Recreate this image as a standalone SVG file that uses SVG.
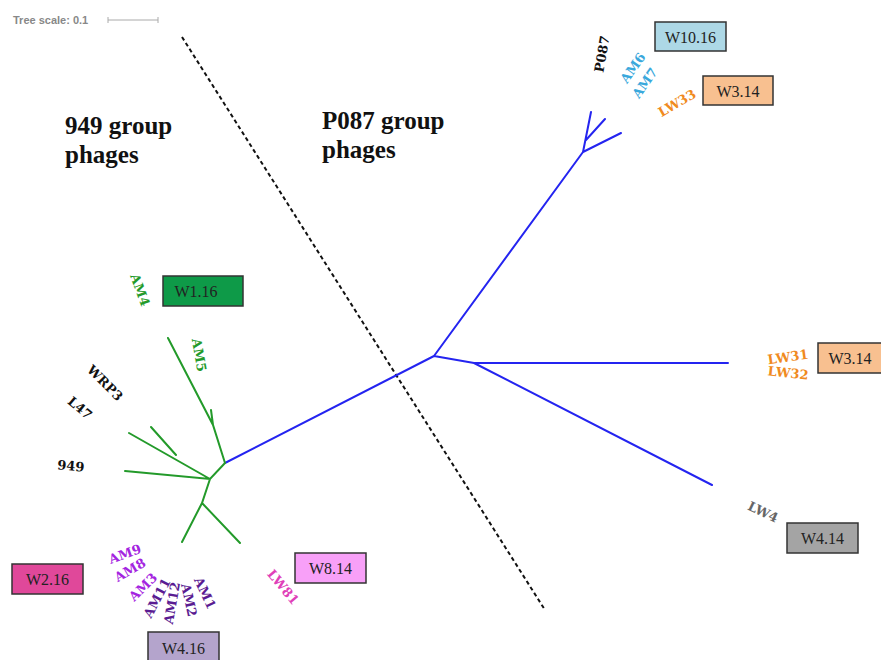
<svg xmlns="http://www.w3.org/2000/svg" width="881" height="660" viewBox="0 0 881 660">
<style>
.blue{stroke:#2424f0;stroke-width:2;fill:none;stroke-linecap:round}
.green{stroke:#239a2a;stroke-width:2;fill:none;stroke-linecap:round}
.lbl{font-family:"DejaVu Serif","Liberation Serif",serif;font-weight:bold;font-size:13px;text-anchor:middle;dominant-baseline:central}
.bx{stroke:#333;stroke-width:1.5}
.bt{font-family:"Liberation Serif",serif;font-size:16px;fill:#222;text-anchor:middle;dominant-baseline:central}
.title{font-family:"Liberation Serif",serif;font-weight:bold;font-size:25px;fill:#111}
</style>
<rect width="881" height="660" fill="#fff"/>
<g id="scale">
<text x="13" y="24" font-family="Liberation Sans,sans-serif" font-weight="bold" font-size="11" fill="#888">Tree scale: 0.1</text>
<path d="M108 20H158M108 17V23M158 17V23" stroke="#aaa" stroke-width="1"/>
</g>
<g id="divider"><line x1="182" y1="37" x2="545" y2="610" stroke="#111" stroke-width="2" stroke-dasharray="4,3"/></g>
<g id="titles">
<text class="title" x="65" y="134">949 group</text>
<text class="title" x="65" y="163">phages</text>
<text class="title" x="322" y="129">P087 group</text>
<text class="title" x="322" y="158">phages</text>
</g>
<g id="connectors">
<path class="blue" d="M434 356L583 152M583 152L591 112M586 140L605 119M583 152L621 133M434 356L474 363L728 363M474 363L712 485M434 356L225 463"/>
<path class="green" d="M225 463L213 425L168 338M213 425L211 410M225 463L210 479L125 471M210 479L129 433M176 455L151 427M210 479L202 503L182 542M202 503L240 543"/>
</g>
<g id="leaf-P087"><text class="lbl" fill="#111" transform="translate(602,54) rotate(-80)">P087</text></g>
<g id="leaf-AM6"><text class="lbl" fill="#3aa8dc" transform="translate(633,68) rotate(-55)">AM6</text></g>
<g id="leaf-AM7"><text class="lbl" fill="#3aa8dc" transform="translate(645,83) rotate(-55)">AM7</text></g>
<g id="leaf-LW33"><text class="lbl" fill="#f08a20" transform="translate(677,103) rotate(-30)">LW33</text></g>
<g id="leaf-LW31"><text class="lbl" fill="#f08a20" transform="translate(788,357) rotate(-8)">LW31</text></g>
<g id="leaf-LW32"><text class="lbl" fill="#f08a20" transform="translate(788,373) rotate(6)">LW32</text></g>
<g id="leaf-LW4"><text class="lbl" fill="#666" transform="translate(763,512) rotate(25)">LW4</text></g>
<g id="leaf-AM4"><text class="lbl" fill="#239a2a" transform="translate(140,290) rotate(70)">AM4</text></g>
<g id="leaf-AM5"><text class="lbl" fill="#239a2a" transform="translate(199,355) rotate(80)">AM5</text></g>
<g id="leaf-WRP3"><text class="lbl" fill="#111" transform="translate(105,383) rotate(45)">WRP3</text></g>
<g id="leaf-L47"><text class="lbl" fill="#111" transform="translate(80,408) rotate(40)">L47</text></g>
<g id="leaf-949"><text class="lbl" fill="#111" transform="translate(71,466) rotate(5)">949</text></g>
<g id="leaf-AM9"><text class="lbl" fill="#a424e0" transform="translate(125,554) rotate(-20)">AM9</text></g>
<g id="leaf-AM8"><text class="lbl" fill="#a424e0" transform="translate(130,570) rotate(-30)">AM8</text></g>
<g id="leaf-AM3"><text class="lbl" fill="#a424e0" transform="translate(143,587) rotate(-45)">AM3</text></g>
<g id="leaf-AM11"><text class="lbl" fill="#5a1c92" transform="translate(157,598) rotate(-62)">AM11</text></g>
<g id="leaf-AM12"><text class="lbl" fill="#5a1c92" transform="translate(172,603) rotate(-80)">AM12</text></g>
<g id="leaf-AM2"><text class="lbl" fill="#5a1c92" transform="translate(189,600) rotate(78)">AM2</text></g>
<g id="leaf-AM1"><text class="lbl" fill="#5a1c92" transform="translate(205,593) rotate(65)">AM1</text></g>
<g id="leaf-LW81"><text class="lbl" fill="#e040b8" transform="translate(283,587) rotate(50)">LW81</text></g>
<g id="box-W10.16"><rect class="bx" x="655" y="22" width="71" height="29" fill="#add8e6"/><text class="bt" x="690.5" y="37">W10.16</text></g>
<g id="box-W3.14-top"><rect class="bx" x="703" y="76" width="70" height="29" fill="#f8c090"/><text class="bt" x="738" y="91">W3.14</text></g>
<g id="box-W3.14-right"><rect class="bx" x="818" y="343" width="66" height="30" fill="#f8c090"/><text class="bt" x="850" y="358.5">W3.14</text></g>
<g id="box-W4.14"><rect class="bx" x="787" y="523" width="71" height="30" fill="#a4a4a4"/><text class="bt" x="822.5" y="538.5">W4.14</text></g>
<g id="box-W1.16"><rect class="bx" x="163" y="276" width="80" height="30" fill="#0e9a48"/><text class="bt" x="196" y="291.5">W1.16</text></g>
<g id="box-W8.14"><rect class="bx" x="295" y="553" width="71" height="30" fill="#f8a0f8"/><text class="bt" x="330.5" y="568.5">W8.14</text></g>
<g id="box-W2.16"><rect class="bx" x="12" y="564" width="71" height="30" fill="#e0489a"/><text class="bt" x="47.5" y="579.5">W2.16</text></g>
<g id="box-W4.16"><rect class="bx" x="148" y="632" width="71" height="32" fill="#b4a4cc"/><text class="bt" x="183.5" y="648.5">W4.16</text></g>
</svg>
